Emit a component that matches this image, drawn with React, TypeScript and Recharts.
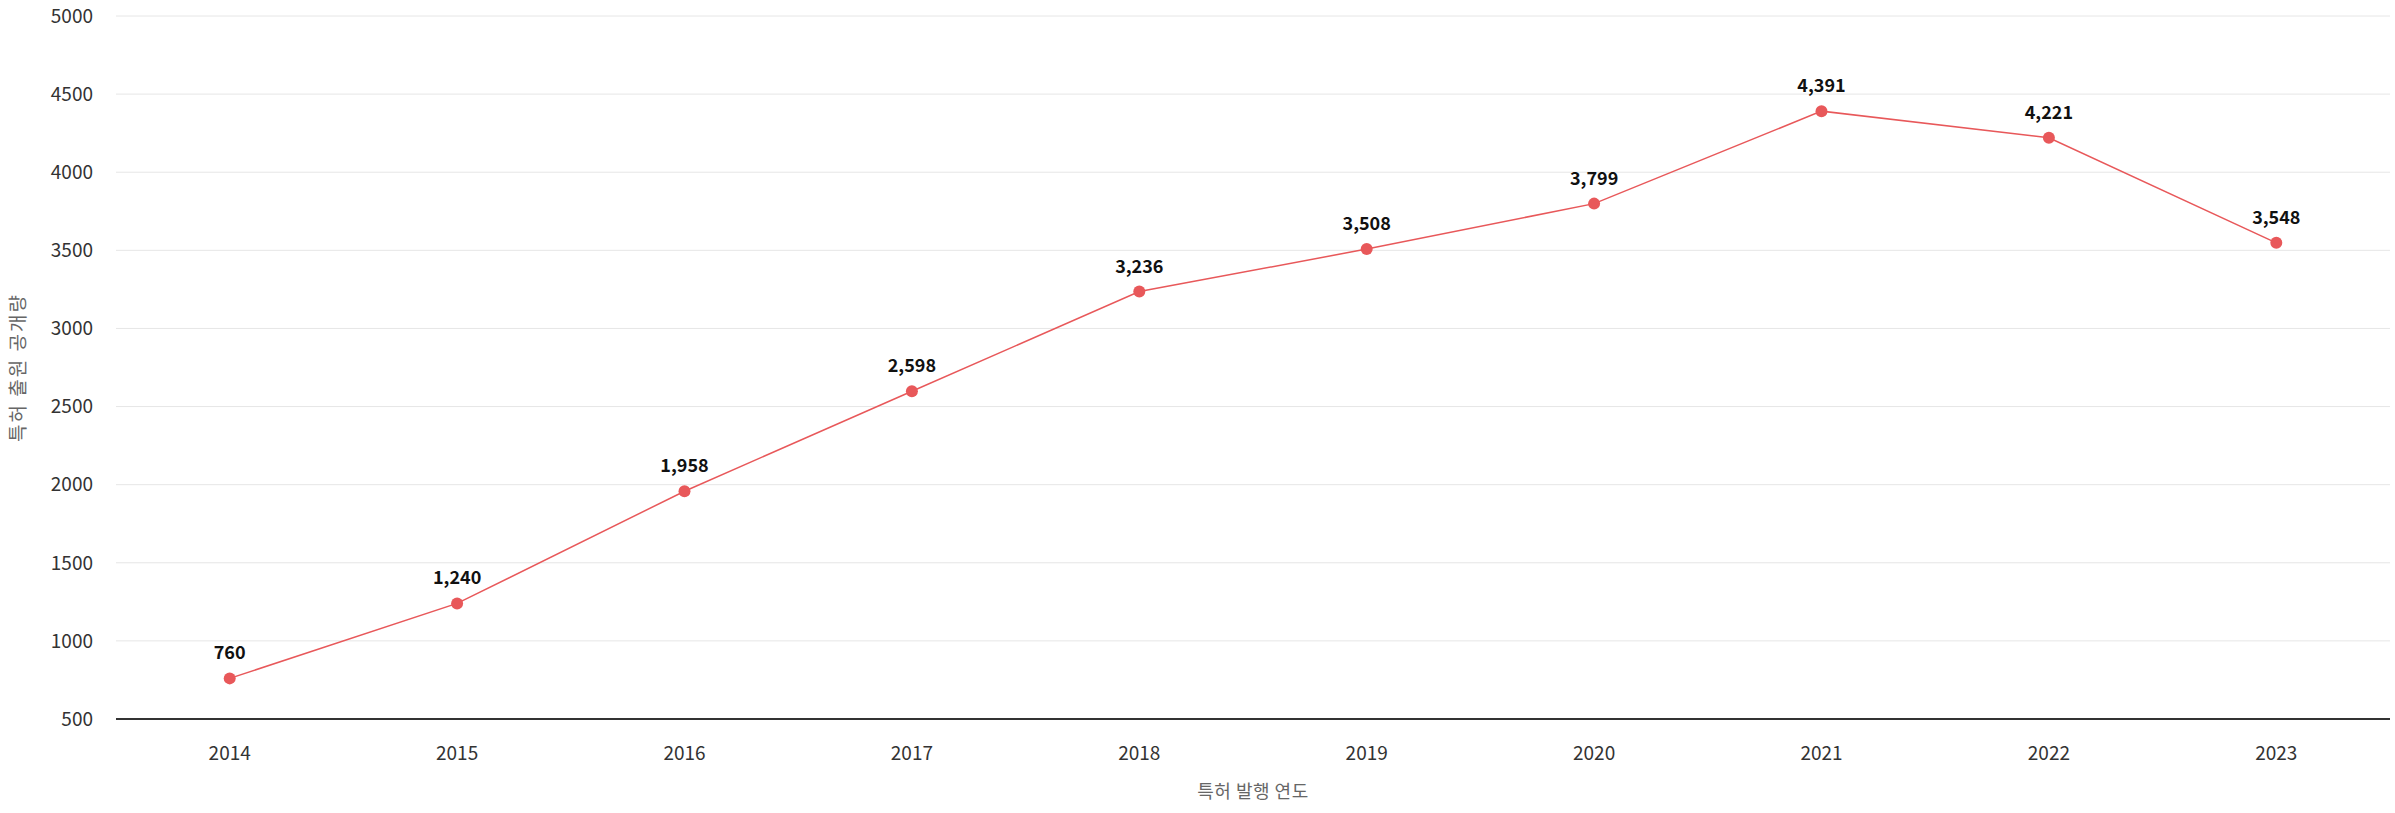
import React from "react";
import { LineChart, Line, XAxis, YAxis, CartesianGrid, LabelList, Label } from "recharts";

const years = ["2014", "2015", "2016", "2017", "2018", "2019", "2020", "2021", "2022", "2023"];
const counts = [760, 1240, 1958, 2598, 3236, 3508, 3799, 4391, 4221, 3548];
const yTicks = [500, 1000, 1500, 2000, 2500, 3000, 3500, 4000, 4500, 5000];

const data = years.map((y, i) => ({ year: y, count: counts[i] }));

const FONT = "'Noto Sans CJK KR', 'Noto Sans', sans-serif";
const LINE_COLOR = "#e8585a";

const fmt = (v: number) => v.toLocaleString("en-US");

export default function App() {
  return (
    <div style={{ position: "absolute", left: 0, top: 0, width: 2395, height: 813, background: "#fff", fontFamily: FONT }}>
      <LineChart width={2395} height={813} data={data} margin={{ top: 16, right: 5, bottom: 0, left: 0 }}>
        <CartesianGrid vertical={false} stroke="#e6e6e6" strokeWidth={1} />
        <XAxis
          dataKey="year"
          scale="band"
          height={94}
          tickSize={0}
          tickMargin={28}
          axisLine={{ stroke: "#333", strokeWidth: 2 }}
          tickLine={false}
          tick={{ fill: "#333", fontSize: 19, fontFamily: FONT }}
        >
          <Label
            content={(props: any) => {
              const vb = props.viewBox || {};
              return (
                <text
                  x={vb.x + vb.width / 2}
                  y={790}
                  textAnchor="middle"
                  dominantBaseline="central"
                  fill="#666"
                  fontSize={18}
                  letterSpacing={0.5}
                  fontFamily={FONT}
                >
                  특허 발행 연도
                </text>
              );
            }}
          />
        </XAxis>
        <YAxis
          width={116}
          domain={[500, 5000]}
          ticks={yTicks}
          interval={0}
          tickSize={0}
          tickMargin={23}
          axisLine={false}
          tickLine={false}
          tick={{ fill: "#333", fontSize: 19, fontFamily: FONT }}
        >
          <Label
            content={(props: any) => {
              const vb = props.viewBox || {};
              const cx = 16;
              const cy = vb.y + vb.height / 2;
              return (
                <text
                  x={cx}
                  y={cy}
                  textAnchor="middle"
                  dominantBaseline="central"
                  transform={`rotate(-90, ${cx}, ${cy})`}
                  fill="#666"
                  fontSize={19}
                  letterSpacing={2}
                  fontFamily={FONT}
                >
                  특허 출원 공개량
                </text>
              );
            }}
          />
        </YAxis>
        <Line
          type="linear"
          dataKey="count"
          stroke={LINE_COLOR}
          strokeWidth={1.5}
          dot={{ r: 6, fill: LINE_COLOR, stroke: LINE_COLOR, strokeWidth: 0 }}
          activeDot={false}
          isAnimationActive={false}
        >
          <LabelList
            dataKey="count"
            position="top"
            offset={19}
            formatter={(v: any) => fmt(Number(v))}
            style={{ fill: "#111", fontSize: 18, fontWeight: 700, fontFamily: FONT }}
          />
        </Line>
      </LineChart>
    </div>
  );
}
